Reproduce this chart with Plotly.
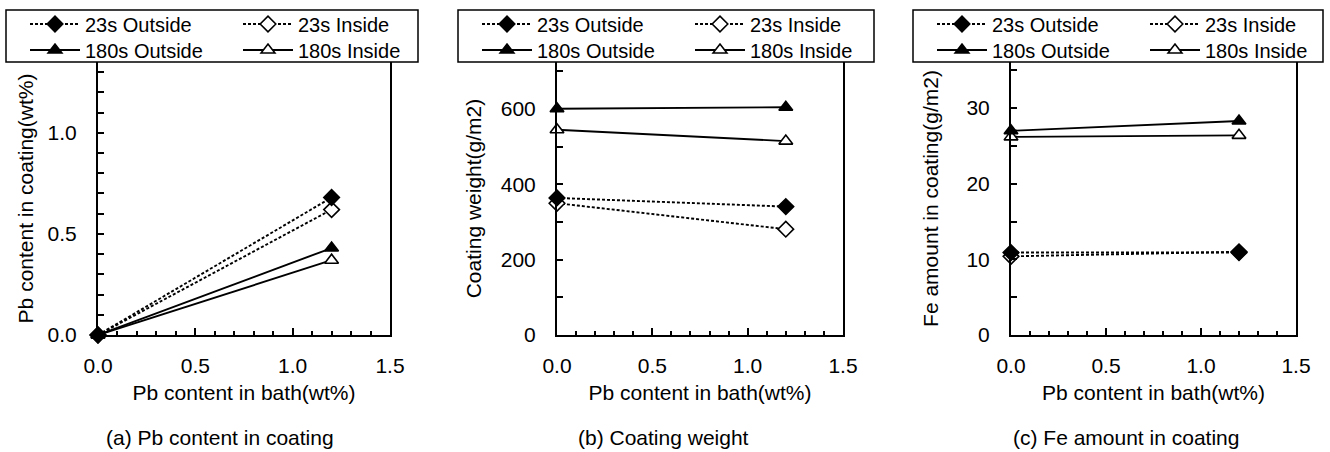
import plotly.graph_objects as go

W, H = 1330, 452

# ---- data ----
pb_bath = [0.0, 1.2]
series_names = ["23s Outside", "23s Inside", "180s Outside", "180s Inside"]

pb_coating = {
    "23s Outside": [0.0, 0.68],
    "23s Inside": [0.0, 0.62],
    "180s Outside": [0.0, 0.43],
    "180s Inside": [0.0, 0.37],
}
coating_weight = {
    "23s Outside": [364, 341],
    "23s Inside": [350, 281],
    "180s Outside": [601, 605],
    "180s Inside": [545, 515],
}
fe_amount = {
    "23s Outside": [10.9, 10.9],
    "23s Inside": [10.4, 11.0],
    "180s Outside": [27.0, 28.3],
    "180s Inside": [26.2, 26.4],
}

y_titles = ["Pb content in coating(wt%)", "Coating weight(g/m2)", "Fe amount in coating(g/m2)"]
x_title = "Pb content in bath(wt%)"
captions = ["(a) Pb content in coating", "(b) Coating weight", "(c) Fe amount in coating"]

# ---- styles ----
styles = {
    "23s Outside": dict(symbol="diamond", fill="black", dash="3px,2px", row=0, rank=1),
    "23s Inside": dict(symbol="diamond", fill="white", dash="3px,2px", row=0, rank=2),
    "180s Outside": dict(symbol="triangle-up", fill="black", dash="solid", row=1, rank=1),
    "180s Inside": dict(symbol="triangle-up", fill="white", dash="solid", row=1, rank=2),
}
# drawing order: open markers underneath, filled markers on top
draw_order = ["23s Inside", "180s Inside", "23s Outside", "180s Outside"]

FONT = "Liberation Sans, Arial, sans-serif"

panels = [
    dict(x0=98, x1=390, yr=[0, 1.35], dtick=0.5, minor=0.1, fmt=".1f",
         box=(6, 418), cap_x=220, ystand=8),
    dict(x0=557, x1=843, yr=[0, 725], dtick=200, minor=100, fmt="d",
         box=(458, 874), cap_x=663, ystand=13),
    dict(x0=1011, x1=1296, yr=[0, 36.1], dtick=10, minor=5, fmt="d",
         box=(913, 1323), cap_x=1126, ystand=22),
]
PY_TOP, PY_BOT = 62, 335
BOX_TOP, BOX_BOT = 10, 62
ROW_Y = [24, 50]

datasets = [pb_coating, coating_weight, fe_amount]

fig = go.Figure()
annotations = []
shapes = []
layout = dict(
    width=W, height=H,
    margin=dict(l=0, r=0, t=0, b=0, autoexpand=False),
    paper_bgcolor="white", plot_bgcolor="white",
    font=dict(family=FONT, size=20, color="black"),
    showlegend=True,
)

leg_idx = 0
for i, (p, data) in enumerate(zip(panels, datasets)):
    n = i + 1
    xa = "x" if n == 1 else f"x{n}"
    ya = "y" if n == 1 else f"y{n}"
    row_legs = []
    for r in range(2):
        leg_idx += 1
        row_legs.append("legend" if leg_idx == 1 else f"legend{leg_idx}")
    for name in draw_order:
        st = styles[name]
        fig.add_trace(go.Scatter(
            x=pb_bath, y=data[name], name=name, mode="lines+markers",
            xaxis=xa, yaxis=ya, legend=row_legs[st["row"]], legendrank=st["rank"],
            cliponaxis=False,
            line=dict(color="black", width=1.9, dash=st["dash"]),
            marker=dict(symbol=st["symbol"], size=12, color=st["fill"],
                        line=dict(color="black", width=1.6)),
        ))
    xkey = "xaxis" if n == 1 else f"xaxis{n}"
    ykey = "yaxis" if n == 1 else f"yaxis{n}"
    layout[xkey] = dict(
        domain=[p["x0"] / W, p["x1"] / W], anchor=ya, range=[0, 1.5],
        tickmode="linear", tick0=0, dtick=0.5, tickformat=".1f",
        ticks="inside", ticklen=7, tickwidth=1.5, tickcolor="black",
        minor=dict(ticks="inside", dtick=0.1, ticklen=4, tickwidth=1.5, tickcolor="black"),
        showline=True, linecolor="black", linewidth=2, mirror=False,
        showgrid=False, zeroline=False,
        tickfont=dict(size=21), ticklabelstandoff=11,
        title=dict(text=x_title, font=dict(size=21), standoff=9),
        fixedrange=True,
    )
    layout[ykey] = dict(
        domain=[1 - PY_BOT / H, 1 - PY_TOP / H], anchor=xa, range=p["yr"],
        tickmode="linear", tick0=0, dtick=p["dtick"], tickformat=p["fmt"],
        ticks="inside", ticklen=6, tickwidth=1.5, tickcolor="black",
        minor=dict(ticks="inside", dtick=p["minor"], ticklen=6, tickwidth=1.5, tickcolor="black"),
        showline=True, linecolor="black", linewidth=2, mirror=True,
        showgrid=False, zeroline=False,
        tickfont=dict(size=21), ticklabelstandoff=15,
        title=dict(text=y_titles[i], font=dict(size=21), standoff=p["ystand"]),
        fixedrange=True,
    )
    for r, lg in enumerate(row_legs):
        layout[lg] = dict(
            x=(p["box"][0] + 19) / W, y=1 - ROW_Y[r] / H, xanchor="left", yanchor="middle",
            orientation="h", entrywidth=148, entrywidthmode="pixels",
            itemwidth=50, traceorder="normal",
            borderwidth=0, bgcolor="rgba(0,0,0,0)",
            font=dict(size=20), tracegroupgap=0,
        )
    shapes.append(dict(
        type="rect", xref="paper", yref="paper",
        x0=p["box"][0] / W, x1=p["box"][1] / W,
        y0=1 - BOX_BOT / H, y1=1 - BOX_TOP / H,
        line=dict(color="black", width=1.5), fillcolor="rgba(0,0,0,0)", layer="above",
    ))
    annotations.append(dict(
        text=captions[i], x=p["cap_x"] / W, y=1 - 437 / H, xref="paper", yref="paper",
        xanchor="center", yanchor="middle", showarrow=False, font=dict(size=21),
    ))

layout["annotations"] = annotations
layout["shapes"] = shapes
fig.update_layout(**layout)
fig.write_html("out.html")
